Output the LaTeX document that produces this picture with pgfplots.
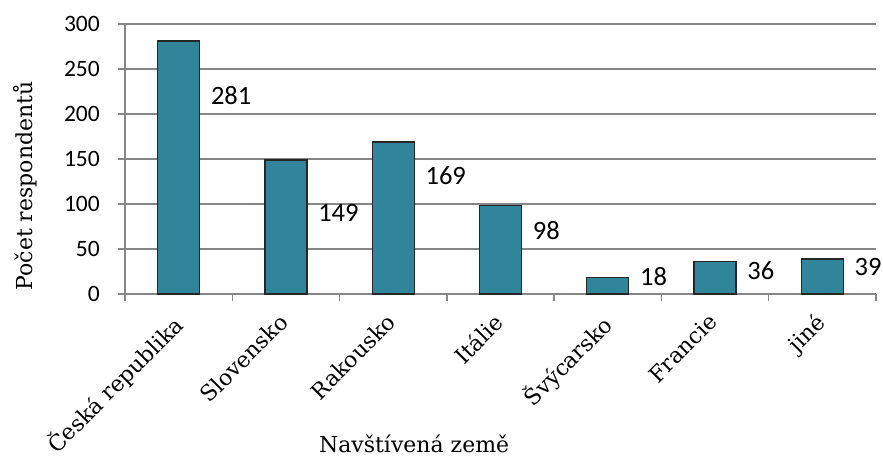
\documentclass[border=0pt]{standalone}
\usepackage{pgfplots}
\pgfplotsset{compat=1.18}
\usepackage{pgfplotstable}
\usepackage{fontspec}
\setmainfont{DejaVu Serif}
\newfontfamily\calibri{Carlito}
\definecolor{barteal}{RGB}{49,133,155}
\definecolor{axisgray}{RGB}{134,134,134}
\definecolor{baredge}{RGB}{38,38,38}

% x: category index, v: respondents, ly: height of the value label
\pgfplotstableread{
x v ly
0 281 221
1 149 90
2 169 132
3 98 70
4 18 19
5 36 26
6 39 30
}\visits

\begin{document}
\begin{tikzpicture}[x=1pt,y=1pt]
\path[use as bounding box] (-125,-166) rectangle (758,294);
\begin{axis}[
  at={(0,0)}, anchor=south west,
  scale only axis, width=751pt, height=270pt,
  xmin=-0.5, xmax=6.5, ymin=0, ymax=300,
  axis x line*=bottom, axis y line*=left,
  axis line style={axisgray, line width=1.3pt, -},
  /pgf/number format/assume math mode=true,
  ytick={0,50,...,300},
  ymajorgrids, grid style={axisgray, line width=1.3pt},
  xtick={0,...,6},
  xticklabels={Česká republika, Slovensko, Rakousko, Itálie, Švýcarsko, Francie, jiné},
  minor xtick={-0.5,0.5,...,6.5},
  tick align=outside,
  major tick length=7pt, minor tick length=7pt,
  major x tick style={draw=none},
  tick style={axisgray, line width=1.3pt},
  yticklabel style={font=\calibri\fontsize{23.5}{24}\selectfont, inner sep=0pt, anchor=east, xshift=-18pt},
  xticklabel style={font=\fontsize{22}{24}\selectfont, xshift=-8pt, yshift=-11pt, rotate=45, anchor=north east, inner sep=0pt},
  xlabel={Navštívená země},
  ylabel={Počet respondentů},
  label style={font=\fontsize{22}{24}\selectfont},
  xlabel style={at={(axis description cs:0.385,-0.555)}, anchor=center},
  ylabel style={at={(axis description cs:-0.133,0.40)}, anchor=center},
]
\addplot[ybar, bar width=42pt, fill=barteal, draw=baredge, line width=1.2pt]
  table[x=x, y=v] {\visits};
\addplot[draw=none, mark=none, nodes near coords, point meta=explicit,
  nodes near coords style={anchor=west, inner sep=0pt, text=black,
    font=\calibri\fontsize{26.5}{26}\selectfont}]
  table[x expr=\thisrow{x}+0.3, y=ly, meta=v] {\visits};
\end{axis}
\end{tikzpicture}
\end{document}
